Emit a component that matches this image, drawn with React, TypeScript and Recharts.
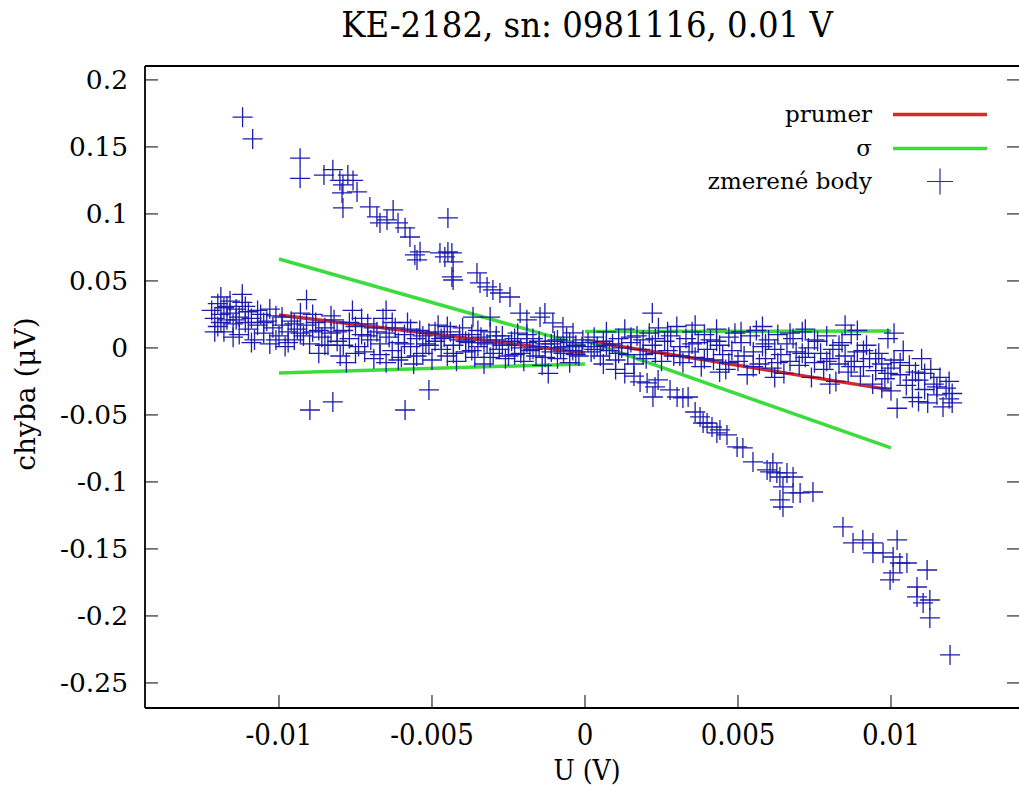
import React from 'react';
import { ScatterChart, Scatter, XAxis, YAxis, Legend } from 'recharts';

// ---------- data ----------
const xTicks = [-0.01, -0.005, 0, 0.005, 0.01];
const yTicks = [-0.25, -0.2, -0.15, -0.1, -0.05, 0, 0.05, 0.1, 0.15, 0.2];
const xDomain: [number, number] = [-0.014379, 0.014216];
const yDomain: [number, number] = [-0.2687, 0.2104];

// mean (prumer) segments: [x, y]
const prumerLeft: [number, number][] = [[-0.01, 0.0246], [0, -0.0037]];
const prumerRight: [number, number][] = [[0, 0.0054], [0.01, -0.0313]];
// sigma segments
const sigmaLeftUpper: [number, number][] = [[-0.01, 0.0664], [0, 0.0015]];
const sigmaLeftLower: [number, number][] = [[-0.01, -0.0187], [0, -0.0119]];
const sigmaRightUpper: [number, number][] = [[0, 0.0122], [0.01, 0.0127]];
const sigmaRightLower: [number, number][] = [[0, 0.0056], [0.01, -0.0746]];

// measured points (zmerené body)
const bandLeft: [number, number][] = [
  [-0.0122, 0.028], [-0.0121, 0.022], [-0.012, 0.033], [-0.012, 0.016], [-0.0119, 0.025], [-0.0119, 0.038],
  [-0.0118, 0.03], [-0.0118, 0.012], [-0.0117, 0.021], [-0.0116, 0.035], [-0.0116, 0.026], [-0.0115, 0.018],
  [-0.0114, 0.029], [-0.0113, 0.01], [-0.0113, 0.023], [-0.0112, 0.034], [-0.0112, 0.04], [-0.0111, 0.019],
  [-0.011, 0.027], [-0.011, 0.014], [-0.0109, 0.022], [-0.0108, 0.006], [-0.0107, 0.017], [-0.0106, 0.025],
  [-0.0105, 0.011], [-0.0104, 0.02], [-0.0103, 0.003], [-0.0102, 0.015], [-0.0101, 0.024], [-0.01, 0.009],
  [-0.0099, 0.017], [-0.0098, 0.001], [-0.0097, 0.012], [-0.0096, 0.02], [-0.0095, 0.006], [-0.0094, 0.014],
  [-0.0093, 0.026], [-0.0092, 0.009], [-0.0091, 0.036], [-0.009, 0.003], [-0.0089, 0.012], [-0.0088, 0.019],
  [-0.0087, -0.004], [-0.0086, 0.008], [-0.0085, 0.015], [-0.0084, 0.002], [-0.0083, 0.011], [-0.0082, 0.021],
  [-0.0081, 0.005], [-0.008, -0.006], [-0.0079, 0.013], [-0.0078, -0.011], [-0.0077, 0.007], [-0.0076, 0.028],
  [-0.0075, 0.016], [-0.0074, 0.001], [-0.0073, 0.01], [-0.0072, -0.003], [-0.0071, 0.018], [-0.007, 0.006],
  [-0.0069, -0.008], [-0.0068, 0.012], [-0.0067, 0.003], [-0.0066, 0.022], [-0.0065, -0.011], [-0.0065, 0.028],
  [-0.0064, 0.008], [-0.0063, -0.002], [-0.0062, 0.015], [-0.0061, 0.004], [-0.006, -0.007], [-0.0059, 0.01],
  [-0.0058, 0.019], [-0.0057, 0.001], [-0.0056, -0.012], [-0.0055, 0.007], [-0.0054, 0.013], [-0.0053, -0.004],
  [-0.0052, 0.003], [-0.0051, 0.011], [-0.005, -0.009], [-0.0049, 0.005], [-0.0048, 0.017], [-0.0047, -0.001],
  [-0.0046, 0.008], [-0.0045, -0.006], [-0.0044, 0.012], [-0.0043, 0.002], [-0.0042, -0.01], [-0.0041, 0.006],
  [-0.004, 0.015], [-0.0039, -0.003], [-0.0038, 0.004], [-0.0037, 0.01], [-0.0036, -0.007], [-0.0035, 0.001],
  [-0.0034, 0.008], [-0.0033, -0.012], [-0.0032, 0.003], [-0.0031, 0.012], [-0.003, -0.004], [-0.0029, 0.006],
  [-0.0028, -0.001], [-0.0027, 0.009], [-0.0026, -0.008], [-0.0025, 0.002], [-0.0024, 0.005], [-0.0023, -0.005],
  [-0.0022, 0.011], [-0.0021, 0.0], [-0.002, -0.01], [-0.0019, 0.004], [-0.0018, -0.002], [-0.0017, 0.007],
  [-0.0016, -0.006], [-0.0015, 0.001], [-0.0014, -0.013], [-0.0013, 0.003], [-0.0012, -0.019], [-0.0011, -0.003],
  [-0.001, 0.005], [-0.0009, -0.008], [-0.0008, 0.0], [-0.0007, -0.004], [-0.0006, 0.008], [-0.0005, -0.011],
  [-0.0004, -0.002], [-0.0003, 0.002], [-0.0002, -0.006], [-0.0001, 0.001],
  [-0.0121, 0.012], [-0.0119, 0.019], [-0.0117, 0.031], [-0.0115, 0.008], [-0.0114, 0.021], [-0.0111, 0.031],
  [-0.0109, 0.004], [-0.0107, 0.028], [-0.0105, 0.019], [-0.0103, 0.029], [-0.0101, 0.006], [-0.0099, 0.023],
  [-0.0097, 0.004], [-0.0095, 0.018], [-0.0093, 0.011], [-0.0091, 0.017], [-0.0089, 0.025], [-0.0087, 0.013],
  [-0.0085, 0.002], [-0.0083, 0.024], [-0.0081, 0.012], [-0.0079, 0.002], [-0.0077, 0.019], [-0.0075, -0.004],
  [-0.0073, 0.022], [-0.0071, 0.009], [-0.0069, 0.015], [-0.0067, -0.005], [-0.0065, 0.011], [-0.0063, 0.019],
  [-0.0061, -0.009], [-0.0059, 0.003], [-0.0057, 0.014], [-0.0055, -0.006], [-0.0053, 0.009], [-0.0051, 0.002],
  [-0.0049, 0.012], [-0.0047, 0.007], [-0.0045, 0.016], [-0.0043, -0.004], [-0.0041, 0.01], [-0.0039, 0.005],
  [-0.0037, -0.002], [-0.0035, 0.013], [-0.0033, 0.004], [-0.0031, -0.007], [-0.0029, 0.009], [-0.0027, 0.002],
  [-0.0025, -0.006], [-0.0023, 0.007], [-0.0021, -0.004], [-0.0019, 0.01], [-0.0017, -0.001], [-0.0015, 0.005],
  [-0.0013, -0.007], [-0.0011, 0.003], [-0.0009, 0.006], [-0.0007, 0.001], [-0.0005, 0.004], [-0.0003, -0.005],
];

const bandRight: [number, number][] = [
  [0.0001, 0.004], [0.0002, -0.003], [0.0003, 0.008], [0.0004, 0.001], [0.0005, -0.006], [0.0006, 0.005],
  [0.0006, -0.012], [0.0007, 0.012], [0.0008, -0.002], [0.0009, 0.003], [0.001, -0.009], [0.001, -0.016],
  [0.0011, 0.007], [0.0012, 0.0], [0.0013, 0.014], [0.0013, -0.019], [0.0014, -0.005], [0.0015, 0.004],
  [0.0016, -0.012], [0.0016, -0.021], [0.0017, 0.009], [0.0018, -0.001], [0.0019, 0.006], [0.002, -0.008],
  [0.0021, 0.011], [0.0022, 0.002], [0.0022, 0.026], [0.0023, -0.004], [0.0024, 0.015], [0.0025, -0.01],
  [0.0026, 0.005], [0.0027, -0.002], [0.0028, 0.009], [0.0029, -0.006], [0.003, 0.016], [0.0031, 0.001],
  [0.0032, -0.011], [0.0033, 0.007], [0.0034, -0.003], [0.0035, 0.012], [0.0036, -0.007], [0.0037, 0.004],
  [0.0038, -0.014], [0.0039, 0.01], [0.004, -0.001], [0.0041, 0.006], [0.0042, -0.009], [0.0043, 0.014],
  [0.0044, 0.002], [0.0045, -0.005], [0.0046, -0.016], [0.0047, 0.008], [0.0048, -0.002], [0.0049, 0.011],
  [0.005, -0.01], [0.0051, 0.004], [0.0052, -0.006], [0.0053, -0.02], [0.0054, 0.009], [0.0055, -0.003],
  [0.0056, 0.013], [0.0057, -0.012], [0.0058, 0.001], [0.0059, -0.008], [0.006, 0.006], [0.0061, -0.015],
  [0.0062, -0.001], [0.0063, 0.01], [0.0064, -0.005], [0.0065, -0.019], [0.0066, 0.003], [0.0067, -0.01],
  [0.0068, 0.007], [0.0069, -0.003], [0.007, -0.013], [0.0071, 0.012], [0.0072, -0.007], [0.0073, 0.0],
  [0.0074, -0.022], [0.0075, -0.011], [0.0076, 0.005], [0.0077, -0.004], [0.0078, -0.016], [0.0079, 0.009],
  [0.008, -0.008], [0.0081, -0.001], [0.0082, -0.025], [0.0083, -0.012], [0.0084, 0.004], [0.0085, -0.006],
  [0.0085, 0.017], [0.0086, -0.018], [0.0087, 0.01], [0.0088, -0.01], [0.0089, -0.003], [0.009, -0.021],
  [0.0091, -0.014], [0.0092, 0.002], [0.0093, -0.008], [0.0094, -0.027], [0.0095, -0.017], [0.0096, -0.004],
  [0.0097, -0.012], [0.0098, -0.023], [0.0099, 0.007], [0.01, -0.015], [0.01, -0.032], [0.0101, -0.009],
  [0.0102, -0.045], [0.0103, -0.02], [0.0104, -0.002], [0.0105, -0.028], [0.0106, -0.013], [0.0107, -0.037],
  [0.0108, -0.018], [0.0109, -0.024], [0.011, -0.008], [0.0111, -0.031], [0.0112, -0.041], [0.0113, -0.016],
  [0.0114, -0.027], [0.0115, -0.035], [0.0116, -0.022], [0.0117, -0.044], [0.0118, -0.03], [0.0119, -0.038],
  [0.012, -0.034], [0.012, -0.041],
  [0.0003, -0.001], [0.0007, 0.002], [0.0011, -0.004], [0.0015, 0.008], [0.0019, -0.005], [0.0023, 0.007],
  [0.0027, 0.012], [0.0031, -0.006], [0.0035, 0.003], [0.0039, -0.008], [0.0043, 0.005], [0.0047, -0.011],
  [0.0051, 0.012], [0.0055, -0.014], [0.0059, 0.003], [0.0063, -0.011], [0.0067, 0.011], [0.0071, -0.004],
  [0.0075, 0.006], [0.0079, -0.01], [0.0083, 0.002], [0.0087, -0.014], [0.0091, -0.002], [0.0095, -0.008],
  [0.0099, -0.019], [0.0103, -0.011], [0.0107, -0.024], [0.0111, -0.019], [0.0115, -0.029], [0.0119, -0.025],
  [0.0044, -0.018], [0.0062, -0.022], [0.008, -0.027], [0.0097, -0.03], [0.0109, -0.04], [0.0101, 0.011],
  [0.0089, 0.013], [0.0072, 0.014], [0.0058, 0.016], [0.0036, 0.017],
];

const branchUpper: [number, number][] = [
  [-0.01119, 0.1722], [-0.01086, 0.156], [-0.00931, 0.1416], [-0.00931, 0.1266], [-0.00853, 0.129],
  [-0.00824, 0.133], [-0.00801, 0.125], [-0.00775, 0.129], [-0.00758, 0.125], [-0.00791, 0.1217],
  [-0.00794, 0.1157], [-0.00745, 0.1164], [-0.00791, 0.1045], [-0.00703, 0.1052], [-0.0068, 0.0978],
  [-0.0067, 0.0933], [-0.00647, 0.0955], [-0.00627, 0.103], [-0.00611, 0.0933], [-0.00588, 0.0896],
  [-0.00572, 0.0828], [-0.00556, 0.0694], [-0.00539, 0.0717], [-0.00549, 0.0657], [-0.00448, 0.097],
  [-0.00474, 0.0709], [-0.00458, 0.0679], [-0.00448, 0.0716], [-0.00435, 0.0709], [-0.00431, 0.0642],
  [-0.00435, 0.053], [-0.00431, 0.0507], [-0.00353, 0.056], [-0.00343, 0.0485], [-0.0032, 0.0455],
  [-0.00301, 0.0433], [-0.00278, 0.041], [-0.00245, 0.038], [-0.00366, 0.023], [-0.0031, 0.023],
  [-0.00212, 0.026], [-0.0019, 0.021], [-0.00147, 0.023], [-0.00131, 0.026], [-0.00105, 0.0187],
  [-0.00072, 0.0157], [-0.00039, 0.0112], [-0.00007, 0.006],
];

const branchLowerLeft: [number, number][] = [
  [-0.00899, -0.0463], [-0.00824, -0.0403], [-0.00588, -0.0463], [-0.0051, -0.0313],
];

const branchLower: [number, number][] = [
  [0.0018, -0.0254], [0.00203, -0.0261], [0.00229, -0.0291], [0.00239, -0.0239], [0.00222, -0.0366],
  [0.00278, -0.0313], [0.00301, -0.0366], [0.0032, -0.0373], [0.00337, -0.0366], [0.0036, -0.0478],
  [0.00376, -0.0515], [0.00386, -0.056], [0.00399, -0.056], [0.00415, -0.059], [0.00431, -0.0634],
  [0.00441, -0.0612], [0.00464, -0.0649], [0.00497, -0.0739], [0.00516, -0.0746], [0.00549, -0.0851],
  [0.00595, -0.091], [0.00605, -0.0925], [0.00614, -0.0858], [0.00627, -0.0933], [0.00637, -0.0963],
  [0.0066, -0.0933], [0.0068, -0.0963], [0.00647, -0.1037], [0.00637, -0.1134], [0.00647, -0.1187],
  [0.0068, -0.1082], [0.00703, -0.1082], [0.00745, -0.1075], [0.00843, -0.1336], [0.00876, -0.1455],
  [0.00908, -0.1433], [0.00941, -0.1455], [0.00941, -0.153], [0.00974, -0.153], [0.01007, -0.156],
  [0.0102, -0.1433], [0.01029, -0.1605], [0.01007, -0.1679], [0.00997, -0.1731], [0.01052, -0.1605],
  [0.01085, -0.1784], [0.01118, -0.1657], [0.01085, -0.1858], [0.01105, -0.1903], [0.01127, -0.1881],
  [0.01127, -0.2015], [0.01193, -0.2291],
];

const toPts = (a: [number, number][]) => a.map(([x, y]) => ({ x, y }));
const measured = toPts([...bandLeft, ...bandRight, ...branchUpper, ...branchLowerLeft, ...branchLower]);

const legendItems = [
  { name: 'prumer', kind: 'line', color: '#d42a2a' },
  { name: 'σ', kind: 'line', color: '#3ddc3d' },
  { name: 'zmerené body', kind: 'cross', color: '#2a2aa8' },
];

// ---------- styling ----------
const SERIF = '"DejaVu Serif", "Liberation Serif", serif';
const SERIF_C = '"DejaVu Serif Condensed", "Liberation Serif", serif';
const RED = '#d42a2a';
const GREEN = '#3ddc3d';
const BLUE = '#1c1cae';
const TICK = 13;

const Cross = (props: any) => {
  const { cx, cy } = props;
  if (cx == null || cy == null) return <g />;
  return (
    <path d={`M${cx - 10},${cy}h20M${cx},${cy - 10}v20`} stroke={BLUE} strokeWidth={1.3} fill="none" />
  );
};
const NoShape = () => <g />;

const fmt = (v: number) => String(v);

const BottomTick = (p: any) => (
  <g>
    <line x1={p.x} x2={p.x} y1={p.y} y2={p.y - TICK} stroke="#000" strokeWidth={1} />
    <text x={p.x} y={p.y + 37} textAnchor="middle" fontFamily={SERIF_C} fontSize={29} fill="#000">
      {fmt(p.payload.value)}
    </text>
  </g>
);
const TopTick = (p: any) => (
  <line x1={p.x} x2={p.x} y1={p.y} y2={p.y + TICK} stroke="#000" strokeWidth={1} />
);
const LeftTick = (p: any) => (
  <g>
    <line x1={p.x} x2={p.x + TICK} y1={p.y} y2={p.y} stroke="#000" strokeWidth={1} />
    <text x={p.x - 17} y={p.y + 9.5} textAnchor="end" fontFamily={SERIF} fontSize={26.5} fill="#000">
      {fmt(p.payload.value)}
    </text>
  </g>
);
const RightTick = (p: any) => (
  <line x1={p.x} x2={p.x - TICK} y1={p.y} y2={p.y} stroke="#000" strokeWidth={1} />
);

const renderLegend = () => (
  <div style={{ fontFamily: SERIF, fontSize: 23, color: '#000' }}>
    {legendItems.map((it) => (
      <div key={it.name} style={{ display: 'flex', alignItems: 'center', height: 33.5 }}>
        <span style={{ width: 312, textAlign: 'right', lineHeight: '33px' }}>{it.name}</span>
        <svg width={130} height={33} style={{ display: 'block' }}>
          {it.kind === 'line' ? (
            <line x1={21} x2={115} y1={16.5} y2={16.5} stroke={it.color} strokeWidth={3.5} />
          ) : (
            <path d="M55,16.5h26M68,3.5v26" stroke={it.color} strokeWidth={1.2} fill="none" />
          )}
        </svg>
      </div>
    ))}
  </div>
);

export default function App() {
  const lineSeries = [
    { key: 'pl', d: prumerLeft, c: RED },
    { key: 'pr', d: prumerRight, c: RED },
    { key: 'slu', d: sigmaLeftUpper, c: GREEN },
    { key: 'sll', d: sigmaLeftLower, c: GREEN },
    { key: 'sru', d: sigmaRightUpper, c: GREEN },
    { key: 'srl', d: sigmaRightLower, c: GREEN },
  ];
  const axisLine = { stroke: '#000', strokeWidth: 1.8 };
  return (
    <div style={{ position: 'fixed', left: 0, top: 0, width: 1019, height: 787, overflow: 'hidden', background: '#fff' }}>
      <ScatterChart width={1021} height={787} margin={{ top: 65, right: 0, bottom: 0, left: 0 }}>
        <XAxis
          xAxisId={0}
          dataKey="x"
          type="number"
          domain={xDomain}
          ticks={xTicks}
          allowDataOverflow
          height={79}
          tickSize={0}
          tickMargin={0}
          tickLine={false}
          axisLine={axisLine}
          tick={BottomTick}
          label={() => (
            <text x={587} y={780} textAnchor="middle" fontFamily={SERIF_C} fontSize={28} fill="#000">
              U (V)
            </text>
          )}
        />
        <XAxis
          xAxisId="top"
          orientation="top"
          type="number"
          domain={xDomain}
          ticks={xTicks}
          allowDataOverflow
          height={1}
          tickSize={0}
          tickMargin={0}
          tickLine={false}
          axisLine={axisLine}
          tick={TopTick}
        />
        <YAxis
          yAxisId={0}
          dataKey="y"
          type="number"
          domain={yDomain}
          ticks={yTicks}
          allowDataOverflow
          width={145}
          tickSize={0}
          tickMargin={0}
          tickLine={false}
          axisLine={axisLine}
          tick={LeftTick}
          label={() => (
            <g>
              <text x={35} y={394} transform="rotate(-90 35 394)" textAnchor="middle" fontFamily={SERIF} fontSize={28} fill="#000">
                chyba (μV)
              </text>
              <text x={587} y={37} textAnchor="middle" fontFamily={SERIF_C} fontSize={36} fill="#000">
                KE-2182, sn: 0981116, 0.01 V
              </text>
            </g>
          )}
        />
        <YAxis
          yAxisId="right"
          orientation="right"
          type="number"
          domain={yDomain}
          ticks={yTicks}
          allowDataOverflow
          width={1}
          tickSize={0}
          tickMargin={0}
          tickLine={false}
          axisLine={axisLine}
          tick={RightTick}
        />
        {lineSeries.map((s) => (
          <Scatter
            key={s.key}
            data={toPts(s.d)}
            line={{ stroke: s.c, strokeWidth: 3.5 }}
            lineType="joint"
            shape={NoShape}
            isAnimationActive={false}
            legendType="none"
          />
        ))}
        <Scatter data={measured} shape={Cross} isAnimationActive={false} legendType="none" />
        <Legend
          layout="vertical"
          align="center"
          verticalAlign="middle"
          content={renderLegend}
          wrapperStyle={{ position: 'absolute', left: 560, top: 98, width: 450, height: 101 }}
        />
      </ScatterChart>
    </div>
  );
}
